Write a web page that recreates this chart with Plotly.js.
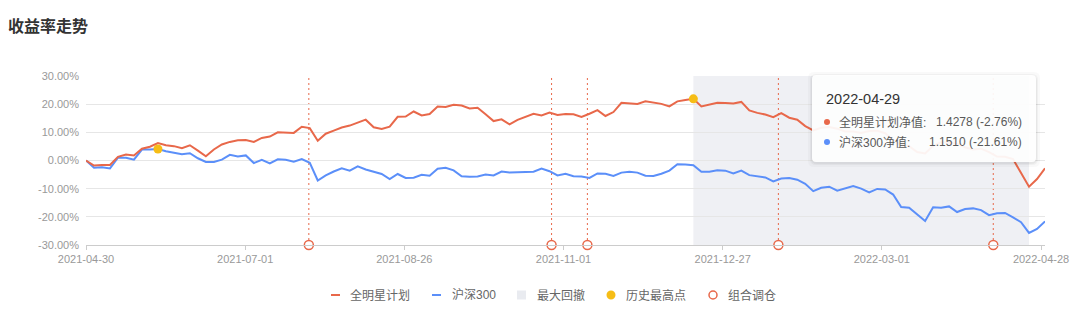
<!DOCTYPE html>
<html><head><meta charset="utf-8">
<script src="https://cdn.plot.ly/plotly-3.0.1.min.js"></script>
<style>html,body{margin:0;padding:0;background:#fff}#chart{width:1080px;height:315px}</style>
</head><body><div id="chart"></div>
<script>
// ---------- data ----------
const chartTitle = '收益率走势';
const seriesNames = ['全明星计划', '沪深300'];
// cumulative return (%) sampled roughly every 2 trading days
const red = [0,-1.8,-1.6,-1.6,1.3,2.1,1.8,4.2,4.9,6.2,
5.4,5.1,4.4,5.4,3.5,1.5,3.9,5.7,6.6,7.2,
7.3,6.6,8.0,8.5,10.0,9.9,9.8,12.0,11.5,7.0,
9.5,10.6,11.7,12.4,13.5,14.5,11.8,11.2,12.0,15.5,
15.6,17.4,16.0,16.5,19.2,19.0,19.8,19.5,18.5,18.7,
16.4,14.0,14.6,12.8,14.4,15.6,16.6,16.0,17.0,16.2,
16.5,16.4,15.5,16.6,17.9,15.8,17.2,20.5,20.4,20.1,
21.0,20.6,20.1,19.2,21.0,21.5,21.9,19.2,19.8,20.5,
20.4,20.2,20.8,17.8,16.9,16.3,15.4,16.8,15.2,14.5,
12.2,10.7,11.6,11.9,11.3,10.3,10.3,9.8,10.5,10.6,
9.7,7.3,5.5,5.1,3.0,2.5,5.2,6.5,6.4,6.0,
4.7,3.9,4.2,3.0,1.4,1.3,0.5,-4.5,-9.3,-6.6,
-2.76];
const blue = [0,-2.6,-2.4,-2.8,1.0,1.0,0.3,3.9,3.9,4.1,
3.3,2.8,2.2,2.6,0.8,-0.5,-0.5,0.3,2.0,1.4,
1.8,-0.9,0.2,-1.0,0.4,0.3,-0.4,0.5,-0.8,-7.1,
-5.3,-3.9,-2.8,-3.6,-2.1,-3.2,-4.0,-4.8,-6.6,-4.8,
-6.2,-6.1,-5.1,-5.4,-2.9,-2.6,-3.5,-5.6,-5.8,-5.7,
-5.0,-5.3,-3.9,-4.3,-4.2,-4.2,-4.0,-2.9,-3.8,-5.3,
-4.7,-5.6,-5.7,-6.2,-4.6,-4.7,-5.5,-4.3,-4.0,-4.3,
-5.4,-5.5,-4.7,-3.6,-1.3,-1.4,-1.7,-4.0,-4.0,-3.5,
-3.6,-4.6,-3.6,-5.2,-5.6,-6.0,-7.4,-6.4,-6.2,-6.8,
-8.3,-10.9,-9.7,-9.3,-10.7,-9.8,-9.1,-10.0,-11.3,-10.1,
-10.3,-12.1,-16.5,-16.8,-19.3,-21.5,-16.6,-16.8,-16.3,-18.3,
-17.2,-17.0,-17.6,-19.4,-18.7,-18.6,-20.2,-21.9,-25.7,-24.3,
-21.61];
const totalDays = 241;                 // trading days spanned by the series
const tickDays = [0, 40, 80, 120, 160, 200, 240];
const tickLabels = ['2021-04-30','2021-07-01','2021-08-26','2021-11-01','2021-12-27','2022-03-01','2022-04-28'];
const yTicks = [-30, -20, -10, 0, 10, 20, 30];
const rebalanceDays = [56, 117, 126, 174, 228];
const tooltipDate = '2022-04-29';
const tooltipLabels = ['全明星计划净值:', '沪深300净值:'];
const tooltipNav = [1.4278, 1.1510];
const legendLabels = ['全明星计划', '沪深300', '最大回撤', '历史最高点', '组合调仓'];

// ---------- style ----------
const RED = '#E8684A', BLUE = '#5B8FF9', YEL = '#F6BD16', SHADE = '#EFF0F4';
const FONT = 'Liberation Sans, "Noto Sans CJK SC", sans-serif';
const L = 86, R = 1045, T = 76, B = 245, W = 1080, H = 315;
const PX = p => (p - L) / (R - L);
const PY = p => (B - p) / (B - T);

const n = red.length;
const xs = red.map((_, i) => i * totalDays / (n - 1));
const argmax = a => a.reduce((bi, v, i) => v > a[bi] ? i : bi, 0);
const peakR = argmax(red);
let troughR = peakR;
for (let i = peakR; i < n; i++) if (red[i] < red[troughR]) troughR = i;
const peakB = argmax(blue);

const traces = [
  {x: xs, y: blue, mode: 'lines', line: {color: BLUE, width: 2}, hoverinfo: 'skip', showlegend: false},
  {x: xs, y: red, mode: 'lines', line: {color: RED, width: 2}, hoverinfo: 'skip', showlegend: false},
  {x: [xs[peakR], xs[peakB]], y: [red[peakR], blue[peakB]], mode: 'markers',
   marker: {color: YEL, size: 9}, hoverinfo: 'skip', showlegend: false, cliponaxis: false},
  {x: rebalanceDays, y: rebalanceDays.map(() => yTicks[0]), mode: 'markers',
   marker: {color: '#fff', size: 9, line: {color: RED, width: 1.5}}, hoverinfo: 'skip', showlegend: false, cliponaxis: false}
];

const shapes = [];
shapes.push({type: 'rect', xref: 'x', yref: 'paper', x0: xs[peakR], x1: xs[troughR], y0: 0, y1: 1,
  fillcolor: SHADE, line: {width: 0}, layer: 'below'});
rebalanceDays.forEach(d => shapes.push({type: 'line', xref: 'x', yref: 'paper', x0: d, x1: d, y0: 0, y1: 1,
  line: {color: RED, width: 1, dash: '2px,3px'}, layer: 'between'}));

function roundRect(x0, y0, x1, y1, r) {
  const f = (x, y) => PX(x) + ',' + PY(y);
  return 'M' + f(x0 + r, y0) + ' L' + f(x1 - r, y0) + ' Q' + f(x1, y0) + ' ' + f(x1, y0 + r) +
    ' L' + f(x1, y1 - r) + ' Q' + f(x1, y1) + ' ' + f(x1 - r, y1) +
    ' L' + f(x0 + r, y1) + ' Q' + f(x0, y1) + ' ' + f(x0, y1 - r) +
    ' L' + f(x0, y0 + r) + ' Q' + f(x0, y0) + ' ' + f(x0 + r, y0) + ' Z';
}
// tooltip box with soft shadow
[[4, 'rgba(0,0,0,0.025)'], [2, 'rgba(0,0,0,0.035)'], [1, 'rgba(0,0,0,0.04)']].forEach(([s, c]) =>
  shapes.push({type: 'path', xref: 'paper', yref: 'paper', path: roundRect(812 - s, 75 - s + 1, 1036 + s, 162 + s + 1, 6),
    fillcolor: c, line: {width: 0}, layer: 'above'}));
shapes.push({type: 'path', xref: 'paper', yref: 'paper', path: roundRect(812, 75, 1036, 162, 4),
  fillcolor: 'rgba(255,255,255,0.93)', line: {width: 0}, layer: 'above'});
const circ = (cx, cy, r, fill, lc, lw) => ({type: 'circle', xref: 'paper', yref: 'paper',
  x0: PX(cx - r), x1: PX(cx + r), y0: PY(cy + r), y1: PY(cy - r), fillcolor: fill,
  line: {color: lc, width: lw}, layer: 'above'});
shapes.push(circ(827, 122, 3, RED, RED, 0));
shapes.push(circ(827, 142, 3, BLUE, BLUE, 0));

// custom legend icons
const LY = 295;
shapes.push({type: 'line', xref: 'paper', yref: 'paper', x0: PX(331), x1: PX(340), y0: PY(LY), y1: PY(LY), line: {color: RED, width: 2}});
shapes.push({type: 'line', xref: 'paper', yref: 'paper', x0: PX(432), x1: PX(441), y0: PY(LY), y1: PY(LY), line: {color: BLUE, width: 2}});
shapes.push({type: 'rect', xref: 'paper', yref: 'paper', x0: PX(517), x1: PX(526), y0: PY(LY + 4.5), y1: PY(LY - 4.5), fillcolor: '#E9EBF0', line: {width: 0}});
shapes.push(circ(611, LY, 4.5, YEL, YEL, 0));
shapes.push(circ(713, LY, 4, '#fff', RED, 1.5));

const annotations = [];
const legendX = [348, 450, 535, 624, 726];
legendLabels.forEach((t, i) => annotations.push({text: t, xref: 'paper', yref: 'paper', x: PX(legendX[i]), y: PY(LY),
  xanchor: 'left', yanchor: 'middle', showarrow: false, font: {family: FONT, size: 12, color: '#666'}}));
annotations.push({text: tooltipDate, xref: 'paper', yref: 'paper', x: PX(824), y: PY(98.5), xanchor: 'left', yanchor: 'middle',
  showarrow: false, font: {family: FONT, size: 14.5, color: '#333'}});
const lastRet = [red[n - 1], blue[n - 1]];
[122, 142].forEach((yy, i) => {
  annotations.push({text: tooltipLabels[i], xref: 'paper', yref: 'paper', x: PX(837), y: PY(yy), xanchor: 'left', yanchor: 'middle',
    showarrow: false, font: {family: FONT, size: 12, color: '#595959'}});
  annotations.push({text: tooltipNav[i].toFixed(4) + ' (' + lastRet[i].toFixed(2) + '%)', xref: 'paper', yref: 'paper',
    x: PX(1024), y: PY(yy), xanchor: 'right', yanchor: 'middle',
    showarrow: false, font: {family: FONT, size: 12, color: '#595959'}});
});

const layout = {
  width: W, height: H,
  margin: {l: L, r: W - R, t: T, b: H - B, pad: 0},
  paper_bgcolor: '#fff', plot_bgcolor: 'rgba(0,0,0,0)',
  title: {text: chartTitle, x: 8 / W, xanchor: 'left', xref: 'container', y: 1 - 26 / H, yanchor: 'middle', yref: 'container',
    font: {family: FONT, size: 16, color: '#333', weight: 'bold'}},
  showlegend: false, hovermode: false,
  xaxis: {range: [0, totalDays], showgrid: false, zeroline: false, showline: true, linecolor: '#CCCCCC', linewidth: 1,
    ticks: 'outside', ticklen: 4, tickcolor: '#CCCCCC', tickvals: tickDays, ticktext: tickLabels,
    tickfont: {family: FONT, size: 11, color: '#999'}, fixedrange: true},
  yaxis: {range: [yTicks[0], yTicks[yTicks.length - 1]], tickvals: yTicks, ticktext: yTicks.map(v => v.toFixed(2) + '%'),
    showgrid: true, gridcolor: '#E6E6E6', gridwidth: 1, zeroline: false, showline: false, ticks: '',
    ticklabelstandoff: 6, tickfont: {family: FONT, size: 11, color: '#999'}, fixedrange: true},
  shapes: shapes, annotations: annotations
};
Plotly.newPlot('chart', traces, layout, {displayModeBar: false, staticPlot: true});
</script></body></html>
